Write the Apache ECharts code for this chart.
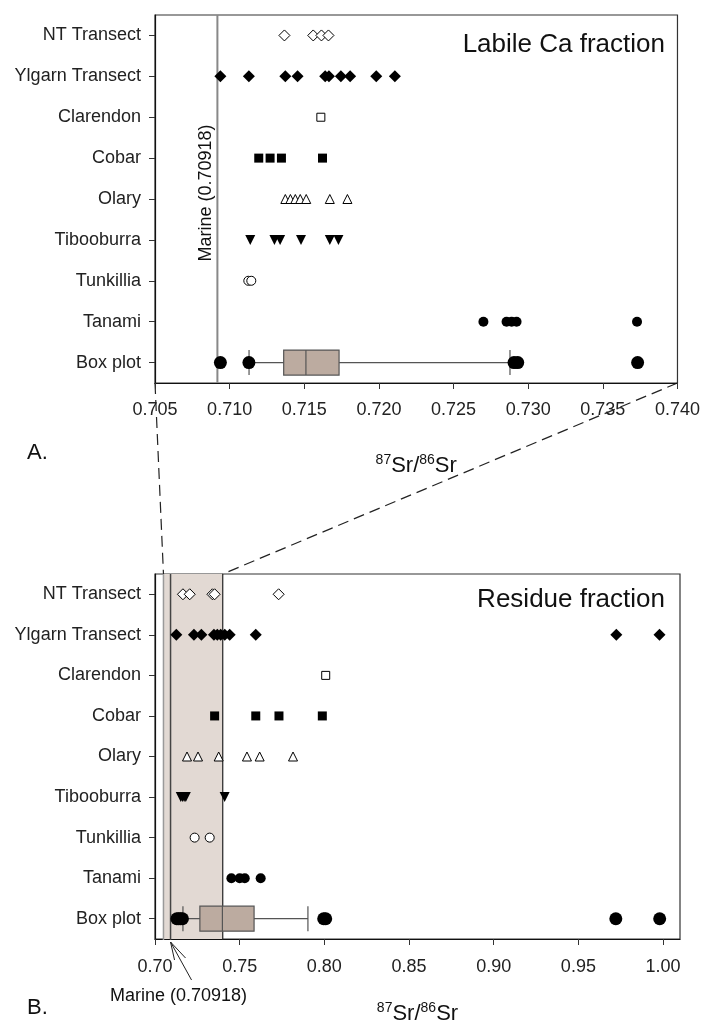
<!DOCTYPE html>
<html>
<head>
<meta charset="utf-8">
<script src="https://cdn.jsdelivr.net/npm/echarts@6/dist/echarts.min.js"></script>
<style>
  html, body { margin: 0; padding: 0; background: #fff; }
  #chart { width: 703px; height: 1026px; }
</style>
</head>
<body>
<div id="chart"></div>
<script>
// sites, top to bottom
const categories = ['NT Transect', 'Ylgarn Transect', 'Clarendon', 'Cobar', 'Olary',
  'Tibooburra', 'Tunkillia', 'Tanami', 'Box plot'];

const marine = 0.70918;
const zoomRange = [0.705, 0.740]; // range of panel A, shaded in panel B

const labileTicks = [0.705, 0.710, 0.715, 0.720, 0.725, 0.730, 0.735, 0.740];
const residueTicks = [0.70, 0.75, 0.80, 0.85, 0.90, 0.95, 1.00];
const residueMax = 1.01;

// A. labile Ca fraction
const labileNT = [0.71367, 0.71560, 0.71615, 0.71662];
const labileYlgarn = [0.70938, 0.71129, 0.71373, 0.71455, 0.71640, 0.71665, 0.71745, 0.71807, 0.71982, 0.72107];
const labileClarendon = [0.71611];
const labileCobar = [0.71195, 0.71271, 0.71347, 0.71622];
const labileOlary = [0.71373, 0.71407, 0.71440, 0.71473, 0.71513, 0.71671, 0.71789];
const labileTiboo = [0.71138, 0.71300, 0.71338, 0.71478, 0.71671, 0.71729];
const labileTunk = [0.71125, 0.71145];
const labileTanami = [0.72700, 0.72855, 0.72889, 0.72922, 0.73729];
const labileBox = [0.71130, 0.71362, 0.71511, 0.71733, 0.72878]; // min q1 median q3 max
const labileOutliers = [0.70938, 0.71129, 0.72905, 0.72930, 0.73733];

// B. residue fraction
const resNT = [0.7165, 0.7205, 0.7339, 0.7352, 0.7730];
const resYlgarn = [0.7126, 0.7230, 0.7274, 0.7348, 0.7368, 0.7388, 0.7412, 0.7441, 0.7595, 0.9724, 0.9979];
const resClarendon = [0.8008];
const resCobar = [0.7352, 0.7595, 0.7732, 0.7988];
const resOlary = [0.7189, 0.7254, 0.7376, 0.7543, 0.7618, 0.7815];
const resTiboo = [0.7152, 0.7162, 0.7172, 0.7182, 0.7411];
const resTunk = [0.7234, 0.7323];
const resTanami = [0.7451, 0.7500, 0.7530, 0.7624];
const resBox = [0.7165, 0.7265, 0.7398, 0.7585, 0.7903];
const resOutliers = [0.7129, 0.7140, 0.7151, 0.7162, 0.7996, 0.8008, 0.9721, 0.9980];

const FONT = "'Liberation Sans', Arial, sans-serif";
const grids = [
  { left: 155, top: 15, width: 525, height: 368 },
  { left: 155, top: 574, width: 525, height: 366 }
];

const markerStyles = {
  'NT Transect': { symbol: 'diamond', size: 11, fill: '#fff' },
  'Ylgarn Transect': { symbol: 'diamond', size: 12, fill: '#000' },
  'Clarendon': { symbol: 'rect', size: 8, fill: '#fff' },
  'Cobar': { symbol: 'rect', size: 9, fill: '#000' },
  'Olary': { symbol: 'triangle', size: 9, fill: '#fff' },
  'Tibooburra': { symbol: 'triangle', size: 10, fill: '#000', rotate: 180 },
  'Tunkillia': { symbol: 'circle', size: 9, fill: '#fff' },
  'Tanami': { symbol: 'circle', size: 10, fill: '#000' },
  'Box plot': { symbol: 'circle', size: 13, fill: '#000' }
};

function pointSeries(name, values, g) {
  const s = markerStyles[name];
  return {
    type: 'scatter', xAxisIndex: g, yAxisIndex: g, z: 5, silent: true,
    symbol: s.symbol, symbolSize: s.size, symbolRotate: s.rotate || 0,
    itemStyle: { color: s.fill, borderColor: '#000', borderWidth: s.fill === '#fff' ? 1 : 0, opacity: 1 },
    data: values.map(v => [v, name])
  };
}

function boxSeries(values, g) {
  return {
    type: 'boxplot', xAxisIndex: g, yAxisIndex: g, z: 4, silent: true,
    boxWidth: [25, 25],
    encode: { y: 0, x: [1, 2, 3, 4, 5] },
    itemStyle: { color: '#bcaba0', borderColor: '#555', borderWidth: 1.2 },
    data: [['Box plot'].concat(values)]
  };
}

function xAxis(g, ticks, max, digits, margin, nameGap) {
  return {
    type: 'value', gridIndex: g,
    min: ticks[0], max: max, interval: ticks[1] - ticks[0],
    splitLine: { show: false },
    axisLine: { show: true, lineStyle: { color: '#111', width: 1.2 } },
    axisTick: { show: true, length: 6, lineStyle: { color: '#333' } },
    axisLabel: { fontFamily: FONT, fontSize: 18, color: '#222', margin: margin,
      formatter: v => v.toFixed(digits) },
    name: '{sup|87}{b|Sr/}{sup|86}{b|Sr}', nameLocation: 'middle', nameGap: nameGap,
    nameTextStyle: {
      fontFamily: FONT, color: '#111',
      rich: {
        b: { fontFamily: FONT, fontSize: 22, color: '#111', lineHeight: 26 },
        sup: { fontFamily: FONT, fontSize: 14, color: '#111', lineHeight: 26, verticalAlign: 'top', padding: [0, 0, 10, 0] }
      }
    }
  };
}

function yAxis(g) {
  return {
    type: 'category', gridIndex: g, data: categories, inverse: true,
    axisLine: { show: true, lineStyle: { color: '#111', width: 1.2 } },
    axisTick: { show: true, alignWithLabel: true, length: 6, lineStyle: { color: '#333' } },
    axisLabel: { fontFamily: FONT, fontSize: 18, color: '#222', margin: 14 },
    splitLine: { show: false }
  };
}

const labileSets = [labileNT, labileYlgarn, labileClarendon, labileCobar, labileOlary,
  labileTiboo, labileTunk, labileTanami, labileOutliers];
const residueSets = [resNT, resYlgarn, resClarendon, resCobar, resOlary,
  resTiboo, resTunk, resTanami, resOutliers];

const series = [
  // shaded panel-A range in panel B
  {
    type: 'scatter', xAxisIndex: 1, yAxisIndex: 1, data: [], z: 1, silent: true,
    markArea: {
      silent: true, itemStyle: { color: '#e2d9d3' },
      data: [[{ xAxis: zoomRange[0] }, { xAxis: zoomRange[1] }]]
    }
  },
  boxSeries(labileBox, 0),
  boxSeries(resBox, 1)
];
categories.forEach((c, i) => {
  series.push(pointSeries(c, labileSets[i], 0));
  series.push(pointSeries(c, residueSets[i], 1));
});

const chart = echarts.init(document.getElementById('chart'), null, { renderer: 'canvas' });
chart.setOption({
  animation: false,
  backgroundColor: '#fff',
  grid: grids.map(g => Object.assign({ show: true, borderColor: '#333', borderWidth: 1.2, backgroundColor: 'transparent' }, g)),
  xAxis: [xAxis(0, labileTicks, labileTicks[labileTicks.length - 1], 3, 18, 70),
          xAxis(1, residueTicks, residueMax, 2, 19, 62)],
  yAxis: [yAxis(0), yAxis(1)],
  series: series
});

// reference lines and annotations, positioned from the axes
const px = (g, v) => chart.convertToPixel({ xAxisIndex: g }, v);
const aTop = grids[0].top;
const aBottom = grids[0].top + grids[0].height;
const bTop = grids[1].top;
const bBottom = grids[1].top + grids[1].height;
const mA = px(0, marine);
const mB = px(1, marine);
const dash = { stroke: '#222', lineWidth: 1.2, lineDash: [11, 6] };
const txt = (size) => size + 'px ' + FONT;
const vline = (x, y1, y2, stroke, w) => ({ type: 'line', silent: true, z: 1,
  shape: { x1: x, y1: y1, x2: x, y2: y2 }, style: { stroke: stroke, lineWidth: w } });

chart.setOption({
  graphic: [
    vline(mA, aTop, aBottom, '#888', 2),
    vline(px(1, zoomRange[0]), bTop, bBottom, '#9a9a9a', 1.5),
    vline(mB, bTop, bBottom, '#444', 1.5),
    vline(px(1, zoomRange[1]), bTop, bBottom, '#222', 1.2),
    { type: 'line', silent: true, shape: { x1: px(0, zoomRange[0]), y1: aBottom, x2: px(1, zoomRange[0]), y2: bTop }, style: dash },
    { type: 'line', silent: true, shape: { x1: px(0, zoomRange[1]), y1: aBottom, x2: px(1, zoomRange[1]), y2: bTop }, style: dash },
    { type: 'text', silent: true, x: mA - 11, y: 193, rotation: Math.PI / 2,
      style: { text: 'Marine (0.70918)', font: txt(18), fill: '#111', align: 'center', verticalAlign: 'middle' } },
    { type: 'text', silent: true, x: 665, y: 45,
      style: { text: 'Labile Ca fraction', font: txt(26), fill: '#111', align: 'right', verticalAlign: 'middle' } },
    { type: 'text', silent: true, x: 665, y: 600,
      style: { text: 'Residue fraction', font: txt(26), fill: '#111', align: 'right', verticalAlign: 'middle' } },
    { type: 'text', silent: true, x: 27, y: 453,
      style: { text: 'A.', font: txt(22), fill: '#111', align: 'left', verticalAlign: 'middle' } },
    { type: 'text', silent: true, x: 27, y: 1008,
      style: { text: 'B.', font: txt(22), fill: '#111', align: 'left', verticalAlign: 'middle' } },
    { type: 'text', silent: true, x: mB + 8, y: 996,
      style: { text: 'Marine (0.70918)', font: txt(18), fill: '#111', align: 'center', verticalAlign: 'middle' } },
    { type: 'polyline', silent: true, shape: { points: [[mB + 4, bBottom + 20], [mB, bBottom + 2], [mB + 21, bBottom + 40]] },
      style: { stroke: '#222', lineWidth: 1, fill: null } },
    { type: 'line', silent: true, shape: { x1: mB, y1: bBottom + 2, x2: mB + 15, y2: bBottom + 18 },
      style: { stroke: '#222', lineWidth: 1 } }
  ]
});

window.addEventListener('resize', () => chart.resize());
</script>
</body>
</html>
